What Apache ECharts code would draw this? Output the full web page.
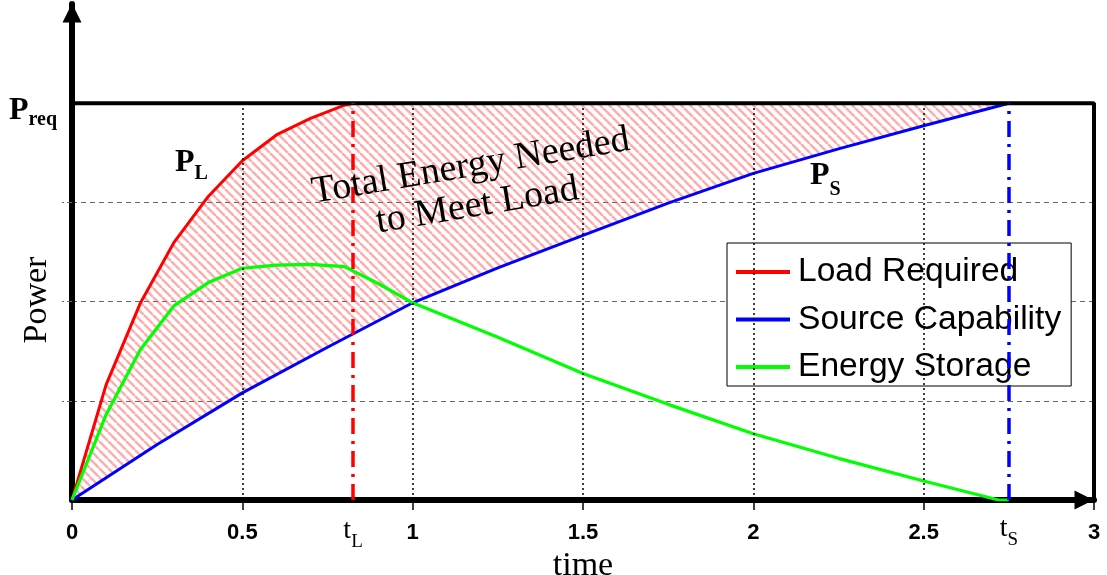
<!DOCTYPE html>
<html>
<head>
<meta charset="utf-8">
<title>Load / Source / Storage</title>
<script src="https://cdn.jsdelivr.net/npm/echarts@6.0.0/dist/echarts.min.js"></script>
<style>
  html, body { margin: 0; padding: 0; background: #fff; }
  #content { width: 1107px; height: 575px; }
</style>
</head>
<body>
<div id="content"></div>
<script>
// load required (red)
var loadTime  = [0, 0.1, 0.2, 0.3, 0.4, 0.5, 0.6, 0.7, 0.8, 0.825];
var loadPower = [0, 0.29, 0.495, 0.65, 0.765, 0.855, 0.92, 0.962, 0.995, 1];

// source capability (blue)
var sourceTime  = [0, 0.25, 0.5, 0.75, 1, 1.25, 1.5, 1.75, 2, 2.25, 2.5, 2.75];
var sourcePower = [0, 0.14, 0.27, 0.385, 0.497, 0.585, 0.667, 0.748, 0.823, 0.885, 0.943, 1];

// energy storage (green)
var storageTime  = [0, 0.1, 0.2, 0.3, 0.4, 0.5, 0.6, 0.7, 0.8, 0.9, 1, 1.25, 1.5, 1.75, 2, 2.25, 2.5, 2.72, 2.75];
var storagePower = [0, 0.215, 0.378, 0.49, 0.548, 0.584, 0.592, 0.594, 0.588, 0.545, 0.497, 0.41, 0.319, 0.241, 0.167, 0.105, 0.048, 0, 0];

var xTicks = [0, 0.5, 1, 1.5, 2, 2.5, 3];
var yGrid = [0.25, 0.5, 0.75];
var pReq = 1;      // P_req level
var tL = 0.825;    // load reaches P_req
var tS = 2.75;     // source reaches P_req

function pairs(xs, ys) {
    var out = [];
    for (var i = 0; i < xs.length; i++) {
        out.push([xs[i], ys[i]]);
    }
    return out;
}

// hatch pattern for the energy area
function makeHatch() {
    var s = 9;
    var c = document.createElement('canvas');
    c.width = s;
    c.height = s;
    var ctx = c.getContext('2d');
    ctx.strokeStyle = 'rgba(255,70,70,0.45)';
    ctx.lineWidth = 2.5;
    for (var k = -1; k <= 1; k++) {
        ctx.beginPath();
        ctx.moveTo(k * s, 0);
        ctx.lineTo(k * s + s, s);
        ctx.stroke();
    }
    return c;
}
var hatch = makeHatch();

// rich styles for P_x / t_x labels
function subRich(size, subSize, subPad, weight) {
    return {
        p: { fontFamily: 'Liberation Serif', fontWeight: weight, fontSize: size, lineHeight: size, verticalAlign: 'top', color: '#000' },
        s: { fontFamily: 'Liberation Serif', fontWeight: weight, fontSize: subSize, lineHeight: subSize, verticalAlign: 'top', padding: [subPad, 0, 0, 0], color: '#000' }
    };
}

var myChart = echarts.init(document.getElementById('content'));

var option = {
    animation: false,
    backgroundColor: '#fff',
    grid: {
        left: 72,
        right: 13,
        top: 4,
        bottom: 75,
        containLabel: false,
        outerBoundsMode: 'none'
    },
    legend: {
        data: ['Load Required', 'Source Capability', 'Energy Storage'],
        orient: 'vertical',
        left: 727,
        top: 243,
        padding: [11, 10, 1, 9],
        itemGap: 11.5,
        itemWidth: 54,
        itemHeight: 4,
        icon: 'rect',
        borderColor: '#000',
        borderWidth: 1,
        backgroundColor: '#fff',
        textStyle: {
            fontFamily: 'Liberation Sans',
            fontSize: 33.6,
            lineHeight: 36,
            padding: [0, 0, 0, 3],
            color: '#000'
        }
    },
    xAxis: {
        type: 'value',
        min: 0,
        max: 3,
        interval: 0.5,
        name: 'time',
        nameLocation: 'middle',
        nameGap: 38,
        nameTextStyle: { fontFamily: 'Liberation Serif', fontSize: 34, color: '#000' },
        axisLine: {
            lineStyle: { color: '#000', width: 6 },
            symbol: ['none', 'triangle'],
            symbolSize: [19, 19],
            symbolOffset: [0, -10]
        },
        axisTick: { show: true, length: 10, lineStyle: { color: '#000', width: 1.5 } },
        axisLabel: {
            margin: 22,
            fontFamily: 'Liberation Sans',
            fontWeight: 'bold',
            fontSize: 22,
            color: '#000'
        },
        splitLine: { show: false }
    },
    yAxis: {
        type: 'value',
        min: 0,
        max: 1.25,
        interval: 0.25,
        axisLine: {
            lineStyle: { color: '#000', width: 6 },
            symbol: ['none', 'triangle'],
            symbolSize: [19, 19],
            symbolOffset: [0, -9]
        },
        axisTick: {
            show: true,
            length: 10,
            customValues: yGrid,
            lineStyle: { color: '#666', width: 1, type: [5, 3] }
        },
        axisLabel: {
            customValues: [pReq],
            margin: 15,
            formatter: function (v) {
                return v === pReq ? '{p|P}{s|req}' : '';
            },
            rich: {
                p: { fontFamily: 'Liberation Serif', fontWeight: 'bold', fontSize: 32, lineHeight: 32, verticalAlign: 'top', padding: [8, 0, 0, 0], color: '#000' },
                s: { fontFamily: 'Liberation Serif', fontWeight: 'bold', fontSize: 20, lineHeight: 20, verticalAlign: 'top', padding: [23, 0, 0, 0], color: '#000' }
            }
        },
        splitLine: {
            show: true,
            lineStyle: { color: '#666', width: 1, type: [5, 4] }
        }
    },
    series: [
        {
            // hatched area between load and source
            name: 'energy',
            type: 'custom',
            z: 1,
            silent: true,
            data: [[0, 0]],
            renderItem: function (params, api) {
                var pts = [];
                for (var i = 0; i < loadTime.length; i++) {
                    pts.push(api.coord([loadTime[i], loadPower[i]]));
                }
                pts.push(api.coord([tS, pReq]));
                for (var j = sourceTime.length - 1; j >= 0; j--) {
                    pts.push(api.coord([sourceTime[j], sourcePower[j]]));
                }
                return {
                    type: 'polygon',
                    shape: { points: pts },
                    style: { fill: { image: hatch, repeat: 'repeat' }, stroke: null }
                };
            }
        },
        {
            // vertical dotted grid, stops at P_req
            name: 'vgrid',
            type: 'line',
            z: 2,
            silent: true,
            data: [],
            markLine: {
                silent: true,
                symbol: ['none', 'none'],
                label: { show: false },
                lineStyle: { color: '#000', width: 1.5, type: [2, 3] },
                data: xTicks.slice(1, -1).map(function (x) {
                    return [{ coord: [x, 0] }, { coord: [x, pReq] }];
                })
            }
        },
        {
            name: 'Load Required',
            type: 'line',
            z: 3,
            showSymbol: false,
            symbol: 'none',
            color: '#ff0000',
            lineStyle: { color: '#ff0000', width: 3 },
            data: pairs(loadTime, loadPower),
            markLine: {
                silent: true,
                symbol: ['none', 'none'],
                label: { show: false },
                lineStyle: { color: '#ff0000', width: 3.5, type: [16, 7, 3, 7] },
                data: [[{ coord: [tL, 0] }, { coord: [tL, pReq] }]]
            }
        },
        {
            name: 'Source Capability',
            type: 'line',
            z: 3,
            showSymbol: false,
            symbol: 'none',
            color: '#0000ff',
            lineStyle: { color: '#0000ff', width: 3 },
            data: pairs(sourceTime, sourcePower),
            markLine: {
                silent: true,
                symbol: ['none', 'none'],
                label: { show: false },
                lineStyle: { color: '#0000ff', width: 3.5, type: [16, 7, 3, 7] },
                data: [[{ coord: [tS, 0] }, { coord: [tS, pReq] }]]
            }
        },
        {
            name: 'Energy Storage',
            type: 'line',
            z: 3,
            showSymbol: false,
            symbol: 'none',
            color: '#00ff00',
            lineStyle: { color: '#00ff00', width: 3.2 },
            data: pairs(storageTime, storagePower)
        },
        {
            // P_req border and right border
            name: 'frame',
            type: 'line',
            z: 4,
            silent: true,
            clip: false,
            symbol: 'none',
            lineStyle: { color: '#000', width: 4 },
            data: [[-0.06, pReq], [3, pReq], [3, 0]]
        }
    ]
};

myChart.setOption(option);

// text notes, placed in data space
function at(x, y) {
    return myChart.convertToPixel({ gridIndex: 0 }, [x, y]);
}

var pPL = at(0.302, 0.89);
var pPS = at(2.166, 0.858);
var pTL = at(tL, -0.043);
var pTS = at(tS, -0.038);
var pNote = at(1.18, 0.791);
var pPow = at(-0.103, 0.504);

myChart.setOption({
    graphic: [
        {
            type: 'text', x: pPL[0], y: pPL[1], z: 10,
            style: { text: '{p|P}{s|L}', rich: subRich(32, 20, 17, 'bold'), align: 'left', verticalAlign: 'top' }
        },
        {
            type: 'text', x: pPS[0], y: pPS[1], z: 10,
            style: { text: '{p|P}{s|S}', rich: subRich(32, 20, 20, 'bold'), align: 'left', verticalAlign: 'top' }
        },
        {
            type: 'text', x: pTL[0], y: pTL[1], z: 10,
            style: { text: '{p|t}{s|L}', rich: subRich(28, 19, 15, 'normal'), align: 'center', verticalAlign: 'top' }
        },
        {
            type: 'text', x: pTS[0], y: pTS[1], z: 10,
            style: { text: '{p|t}{s|S}', rich: subRich(28, 19, 15, 'normal'), align: 'center', verticalAlign: 'top' }
        },
        {
            type: 'text', x: pNote[0], y: pNote[1], z: 10,
            rotation: 9.5 * Math.PI / 180,
            style: {
                text: 'Total Energy Needed\nto Meet Load',
                font: '38px "Liberation Serif"',
                lineHeight: 40,
                fill: '#000',
                align: 'center',
                verticalAlign: 'middle'
            }
        },
        {
            type: 'text', x: pPow[0], y: pPow[1], z: 10,
            rotation: Math.PI / 2,
            style: {
                text: 'Power',
                font: '34px "Liberation Serif"',
                fill: '#000',
                align: 'center',
                verticalAlign: 'middle'
            }
        }
    ]
});
</script>
</body>
</html>
